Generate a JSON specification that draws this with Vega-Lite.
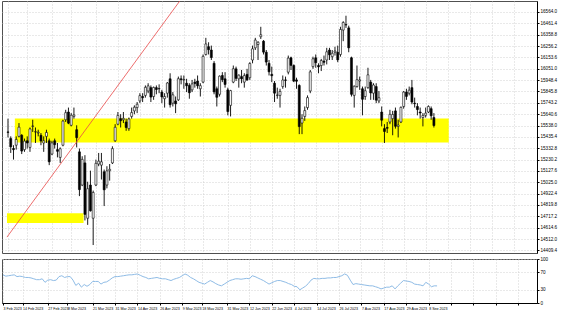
{
"$schema": "https://vega.github.io/schema/vega-lite/v6.json",
"padding": 0,
"background": "#ffffff",
"config": {
  "font": "Liberation Sans",
  "view": {"stroke": "#505050", "strokeWidth": 1},
  "concat": {"spacing": 1},
  "axis": {"labelFontSize": 4.6, "labelColor": "#000000", "tickColor": "#000000", "domainColor": "#000000", "gridColor": "#c8c8c8", "gridDash": [1, 2], "gridWidth": 0.8, "tickSize": 2, "labelPadding": 1, "labelOverlap": false}
},
"datasets": {
  "bars": [
{"i":2,"d":"2023-02-03","o":15480,"h":15600,"l":15430,"c":15476,"r":64},
{"i":3,"d":"2023-02-06","o":15420,"h":15440,"l":15290,"c":15345,"r":61},
{"i":4,"d":"2023-02-07","o":15330,"h":15360,"l":15230,"c":15320,"r":62},
{"i":5,"d":"2023-02-08","o":15360,"h":15440,"l":15320,"c":15412,"r":63},
{"i":6,"d":"2023-02-09","o":15440,"h":15560,"l":15430,"c":15523,"r":64},
{"i":7,"d":"2023-02-10","o":15450,"h":15460,"l":15280,"c":15307,"r":60},
{"i":8,"d":"2023-02-13","o":15320,"h":15420,"l":15300,"c":15397,"r":61},
{"i":9,"d":"2023-02-14","o":15400,"h":15440,"l":15330,"c":15380,"r":60},
{"i":10,"d":"2023-02-15","o":15340,"h":15520,"l":15300,"c":15507,"r":58},
{"i":11,"d":"2023-02-16","o":15530,"h":15590,"l":15480,"c":15534,"r":58},
{"i":12,"d":"2023-02-17","o":15480,"h":15520,"l":15380,"c":15482,"r":57},
{"i":13,"d":"2023-02-20","o":15470,"h":15500,"l":15440,"c":15477,"r":55},
{"i":14,"d":"2023-02-21","o":15450,"h":15470,"l":15360,"c":15398,"r":53},
{"i":15,"d":"2023-02-22","o":15380,"h":15440,"l":15300,"c":15400,"r":53},
{"i":16,"d":"2023-02-23","o":15440,"h":15500,"l":15380,"c":15475,"r":55},
{"i":17,"d":"2023-02-24","o":15400,"h":15420,"l":15180,"c":15210,"r":47},
{"i":18,"d":"2023-02-27","o":15280,"h":15400,"l":15270,"c":15381,"r":52},
{"i":19,"d":"2023-02-28","o":15400,"h":15420,"l":15330,"c":15365,"r":53},
{"i":20,"d":"2023-03-01","o":15320,"h":15380,"l":15250,"c":15305,"r":51},
{"i":21,"d":"2023-03-02","o":15250,"h":15340,"l":15200,"c":15328,"r":52},
{"i":22,"d":"2023-03-03","o":15360,"h":15590,"l":15350,"c":15578,"r":60},
{"i":23,"d":"2023-03-06","o":15590,"h":15680,"l":15570,"c":15654,"r":62},
{"i":24,"d":"2023-03-07","o":15660,"h":15700,"l":15550,"c":15559,"r":58},
{"i":25,"d":"2023-03-08","o":15540,"h":15650,"l":15530,"c":15631,"r":60},
{"i":26,"d":"2023-03-09","o":15620,"h":15700,"l":15600,"c":15633,"r":60},
{"i":27,"d":"2023-03-10","o":15500,"h":15540,"l":15340,"c":15428,"r":52},
{"i":28,"d":"2023-03-13","o":15300,"h":15330,"l":14900,"c":14959,"r":40},
{"i":29,"d":"2023-03-14","o":15000,"h":15260,"l":14990,"c":15232,"r":45},
{"i":30,"d":"2023-03-15","o":15200,"h":15270,"l":14680,"c":14735,"r":36},
{"i":31,"d":"2023-03-16","o":14700,"h":15030,"l":14640,"c":14967,"r":42},
{"i":32,"d":"2023-03-17","o":15000,"h":15130,"l":14760,"c":14768,"r":38},
{"i":33,"d":"2023-03-20","o":14700,"h":14950,"l":14458,"c":14933,"r":42},
{"i":34,"d":"2023-03-21","o":15000,"h":15230,"l":14990,"c":15196,"r":49},
{"i":35,"d":"2023-03-22","o":15190,"h":15290,"l":15170,"c":15216,"r":49},
{"i":36,"d":"2023-03-23","o":15180,"h":15290,"l":15050,"c":15210,"r":49},
{"i":37,"d":"2023-03-24","o":15120,"h":15140,"l":14810,"c":14957,"r":43},
{"i":38,"d":"2023-03-27","o":15000,"h":15170,"l":14970,"c":15128,"r":47},
{"i":39,"d":"2023-03-28","o":15130,"h":15190,"l":15040,"c":15142,"r":48},
{"i":40,"d":"2023-03-29","o":15200,"h":15350,"l":15190,"c":15329,"r":52},
{"i":41,"d":"2023-03-30","o":15400,"h":15550,"l":15390,"c":15522,"r":57},
{"i":42,"d":"2023-03-31","o":15550,"h":15660,"l":15540,"c":15629,"r":60},
{"i":43,"d":"2023-04-03","o":15600,"h":15640,"l":15520,"c":15581,"r":60},
{"i":44,"d":"2023-04-04","o":15590,"h":15660,"l":15560,"c":15603,"r":61},
{"i":45,"d":"2023-04-05","o":15570,"h":15600,"l":15490,"c":15520,"r":62},
{"i":46,"d":"2023-04-06","o":15510,"h":15610,"l":15490,"c":15597,"r":63},
{"i":47,"d":"2023-04-11","o":15620,"h":15700,"l":15600,"c":15655,"r":64},
{"i":48,"d":"2023-04-12","o":15670,"h":15720,"l":15640,"c":15703,"r":64},
{"i":49,"d":"2023-04-13","o":15700,"h":15750,"l":15650,"c":15730,"r":65},
{"i":50,"d":"2023-04-14","o":15760,"h":15830,"l":15740,"c":15808,"r":66},
{"i":51,"d":"2023-04-17","o":15800,"h":15830,"l":15750,"c":15789,"r":63},
{"i":52,"d":"2023-04-18","o":15810,"h":15900,"l":15790,"c":15883,"r":60},
{"i":53,"d":"2023-04-19","o":15850,"h":15920,"l":15830,"c":15896,"r":58},
{"i":54,"d":"2023-04-20","o":15880,"h":15900,"l":15750,"c":15795,"r":55},
{"i":55,"d":"2023-04-21","o":15800,"h":15890,"l":15770,"c":15882,"r":56},
{"i":56,"d":"2023-04-24","o":15880,"h":15900,"l":15820,"c":15863,"r":57},
{"i":57,"d":"2023-04-25","o":15870,"h":15910,"l":15830,"c":15872,"r":58},
{"i":58,"d":"2023-04-26","o":15840,"h":15860,"l":15740,"c":15796,"r":56},
{"i":59,"d":"2023-04-27","o":15780,"h":15830,"l":15700,"c":15800,"r":55},
{"i":60,"d":"2023-04-28","o":15830,"h":15930,"l":15790,"c":15922,"r":55},
{"i":61,"d":"2023-05-02","o":15960,"h":16010,"l":15700,"c":15726,"r":53},
{"i":62,"d":"2023-05-03","o":15740,"h":15840,"l":15710,"c":15815,"r":51},
{"i":63,"d":"2023-05-04","o":15760,"h":15800,"l":15650,"c":15734,"r":54},
{"i":64,"d":"2023-05-05","o":15770,"h":15980,"l":15760,"c":15961,"r":56},
{"i":65,"d":"2023-05-08","o":15960,"h":15990,"l":15910,"c":15952,"r":58},
{"i":66,"d":"2023-05-09","o":15950,"h":15990,"l":15870,"c":15955,"r":62},
{"i":67,"d":"2023-05-10","o":15920,"h":15960,"l":15840,"c":15897,"r":66},
{"i":68,"d":"2023-05-11","o":15900,"h":15920,"l":15780,"c":15834,"r":63},
{"i":69,"d":"2023-05-12","o":15860,"h":15950,"l":15840,"c":15914,"r":58},
{"i":70,"d":"2023-05-15","o":15930,"h":15960,"l":15880,"c":15917,"r":55},
{"i":71,"d":"2023-05-16","o":15940,"h":15990,"l":15870,"c":15897,"r":51},
{"i":72,"d":"2023-05-17","o":15870,"h":15920,"l":15800,"c":15898,"r":47},
{"i":73,"d":"2023-05-18","o":15930,"h":16180,"l":15920,"c":16163,"r":45},
{"i":74,"d":"2023-05-19","o":16180,"h":16330,"l":16170,"c":16275,"r":43},
{"i":75,"d":"2023-05-22","o":16250,"h":16290,"l":16180,"c":16223,"r":47},
{"i":76,"d":"2023-05-23","o":16220,"h":16260,"l":16130,"c":16152,"r":51},
{"i":77,"d":"2023-05-24","o":16100,"h":16120,"l":15820,"c":15842,"r":48},
{"i":78,"d":"2023-05-25","o":15870,"h":15890,"l":15710,"c":15793,"r":44},
{"i":79,"d":"2023-05-26","o":15820,"h":15990,"l":15800,"c":15984,"r":41},
{"i":80,"d":"2023-05-29","o":15990,"h":16020,"l":15930,"c":15952,"r":39},
{"i":81,"d":"2023-05-30","o":15960,"h":16020,"l":15880,"c":15909,"r":43},
{"i":82,"d":"2023-05-31","o":15860,"h":15880,"l":15630,"c":15664,"r":47},
{"i":83,"d":"2023-06-01","o":15720,"h":15860,"l":15620,"c":15853,"r":51},
{"i":84,"d":"2023-06-02","o":15930,"h":16080,"l":15920,"c":16051,"r":53},
{"i":85,"d":"2023-06-05","o":16050,"h":16070,"l":15940,"c":15964,"r":55},
{"i":86,"d":"2023-06-06","o":15960,"h":16000,"l":15880,"c":15993,"r":55},
{"i":87,"d":"2023-06-07","o":15980,"h":16040,"l":15920,"c":15960,"r":54},
{"i":88,"d":"2023-06-08","o":15930,"h":16010,"l":15880,"c":15989,"r":55},
{"i":89,"d":"2023-06-09","o":16000,"h":16050,"l":15940,"c":15950,"r":56},
{"i":90,"d":"2023-06-12","o":15970,"h":16110,"l":15950,"c":16098,"r":55},
{"i":91,"d":"2023-06-13","o":16130,"h":16260,"l":16100,"c":16231,"r":62},
{"i":92,"d":"2023-06-14","o":16240,"h":16330,"l":16220,"c":16310,"r":60},
{"i":93,"d":"2023-06-15","o":16270,"h":16300,"l":16130,"c":16290,"r":57},
{"i":94,"d":"2023-06-16","o":16340,"h":16430,"l":16320,"c":16358,"r":54},
{"i":95,"d":"2023-06-19","o":16300,"h":16310,"l":16180,"c":16201,"r":51},
{"i":96,"d":"2023-06-20","o":16200,"h":16220,"l":16080,"c":16111,"r":47},
{"i":97,"d":"2023-06-21","o":16100,"h":16130,"l":15990,"c":16023,"r":43},
{"i":98,"d":"2023-06-22","o":16000,"h":16070,"l":15930,"c":15988,"r":46},
{"i":99,"d":"2023-06-23","o":15920,"h":15940,"l":15750,"c":15830,"r":49},
{"i":100,"d":"2023-06-26","o":15810,"h":15880,"l":15780,"c":15813,"r":51},
{"i":101,"d":"2023-06-27","o":15810,"h":15870,"l":15700,"c":15846,"r":51},
{"i":102,"d":"2023-06-28","o":15890,"h":15990,"l":15870,"c":15949,"r":49},
{"i":103,"d":"2023-06-29","o":15950,"h":15980,"l":15880,"c":15946,"r":47},
{"i":104,"d":"2023-06-30","o":16020,"h":16170,"l":16000,"c":16147,"r":44},
{"i":105,"d":"2023-07-03","o":16150,"h":16160,"l":16040,"c":16081,"r":42},
{"i":106,"d":"2023-07-04","o":16080,"h":16090,"l":15930,"c":15939,"r":38},
{"i":107,"d":"2023-07-05","o":15950,"h":15970,"l":15870,"c":15938,"r":37},
{"i":108,"d":"2023-07-06","o":15900,"h":15910,"l":15460,"c":15528,"r":30},
{"i":109,"d":"2023-07-07","o":15560,"h":15640,"l":15460,"c":15603,"r":34},
{"i":110,"d":"2023-07-10","o":15620,"h":15710,"l":15580,"c":15673,"r":38},
{"i":111,"d":"2023-07-11","o":15700,"h":15810,"l":15680,"c":15790,"r":44},
{"i":112,"d":"2023-07-12","o":15850,"h":16040,"l":15830,"c":16023,"r":52},
{"i":113,"d":"2023-07-13","o":16070,"h":16160,"l":16050,"c":16141,"r":56},
{"i":114,"d":"2023-07-14","o":16150,"h":16180,"l":16060,"c":16105,"r":55},
{"i":115,"d":"2023-07-17","o":16080,"h":16100,"l":16010,"c":16068,"r":55},
{"i":116,"d":"2023-07-18","o":16080,"h":16140,"l":16030,"c":16125,"r":56},
{"i":117,"d":"2023-07-19","o":16120,"h":16170,"l":16080,"c":16109,"r":56},
{"i":118,"d":"2023-07-20","o":16130,"h":16240,"l":16090,"c":16204,"r":57},
{"i":119,"d":"2023-07-21","o":16220,"h":16240,"l":16130,"c":16177,"r":57},
{"i":120,"d":"2023-07-24","o":16160,"h":16220,"l":16130,"c":16191,"r":58},
{"i":121,"d":"2023-07-25","o":16200,"h":16250,"l":16170,"c":16211,"r":58},
{"i":122,"d":"2023-07-26","o":16200,"h":16260,"l":16110,"c":16131,"r":60},
{"i":123,"d":"2023-07-27","o":16180,"h":16430,"l":16160,"c":16406,"r":62},
{"i":124,"d":"2023-07-28","o":16400,"h":16480,"l":16300,"c":16469,"r":66},
{"i":125,"d":"2023-07-31","o":16450,"h":16530,"l":16420,"c":16446,"r":63},
{"i":126,"d":"2023-08-01","o":16420,"h":16440,"l":16200,"c":16240,"r":52},
{"i":127,"d":"2023-08-02","o":16150,"h":16160,"l":15800,"c":15820,"r":42},
{"i":128,"d":"2023-08-03","o":15810,"h":15900,"l":15700,"c":15893,"r":44},
{"i":129,"d":"2023-08-04","o":15890,"h":16080,"l":15880,"c":15952,"r":43},
{"i":130,"d":"2023-08-07","o":15940,"h":15980,"l":15860,"c":15950,"r":42},
{"i":131,"d":"2023-08-08","o":15870,"h":15890,"l":15630,"c":15775,"r":41},
{"i":132,"d":"2023-08-09","o":15800,"h":15890,"l":15770,"c":15852,"r":40},
{"i":133,"d":"2023-08-10","o":15880,"h":16060,"l":15870,"c":15996,"r":39},
{"i":134,"d":"2023-08-11","o":15930,"h":15950,"l":15770,"c":15832,"r":39},
{"i":135,"d":"2023-08-14","o":15830,"h":15920,"l":15770,"c":15904,"r":37},
{"i":136,"d":"2023-08-15","o":15890,"h":15920,"l":15740,"c":15767,"r":35},
{"i":137,"d":"2023-08-16","o":15760,"h":15850,"l":15740,"c":15789,"r":32},
{"i":138,"d":"2023-08-17","o":15660,"h":15710,"l":15530,"c":15586,"r":34},
{"i":139,"d":"2023-08-18","o":15510,"h":15550,"l":15380,"c":15484,"r":36},
{"i":140,"d":"2023-08-21","o":15520,"h":15570,"l":15470,"c":15513,"r":36},
{"i":141,"d":"2023-08-22","o":15570,"h":15680,"l":15550,"c":15639,"r":39},
{"i":142,"d":"2023-08-23","o":15600,"h":15670,"l":15450,"c":15638,"r":32},
{"i":143,"d":"2023-08-24","o":15670,"h":15700,"l":15510,"c":15531,"r":39},
{"i":144,"d":"2023-08-25","o":15530,"h":15590,"l":15430,"c":15542,"r":45},
{"i":145,"d":"2023-08-28","o":15570,"h":15710,"l":15560,"c":15702,"r":51},
{"i":146,"d":"2023-08-29","o":15710,"h":15850,"l":15690,"c":15840,"r":50},
{"i":147,"d":"2023-08-30","o":15840,"h":15870,"l":15770,"c":15801,"r":49},
{"i":148,"d":"2023-08-31","o":15830,"h":15890,"l":15810,"c":15857,"r":47},
{"i":149,"d":"2023-09-01","o":15880,"h":15950,"l":15730,"c":15750,"r":43},
{"i":150,"d":"2023-09-04","o":15740,"h":15790,"l":15700,"c":15735,"r":42},
{"i":151,"d":"2023-09-05","o":15710,"h":15740,"l":15630,"c":15682,"r":41},
{"i":152,"d":"2023-09-06","o":15660,"h":15700,"l":15600,"c":15651,"r":39},
{"i":153,"d":"2023-09-07","o":15610,"h":15650,"l":15530,"c":15629,"r":47},
{"i":154,"d":"2023-09-08","o":15630,"h":15700,"l":15610,"c":15650,"r":43},
{"i":155,"d":"2023-09-11","o":15660,"h":15720,"l":15650,"c":15710,"r":37},
{"i":156,"d":"2023-09-12","o":15690,"h":15710,"l":15590,"c":15626,"r":39},
{"i":157,"d":"2023-09-13","o":15610,"h":15650,"l":15520,"c":15538,"r":38.8679}
  ],
  "zones": [
    {"i": 4.5, "i2": 162.4, "p": 15385, "p2": 15601},
    {"i": 1.64, "i2": 29.5, "p": 14656, "p2": 14746}
  ],
  "trend": [
    {"i": 1.64, "p": 14530},
    {"i": 70, "p": 16849}
  ]
},
"vconcat": [
  {
    "width": 535,
    "height": 252,
    "layer": [
      {
        "data": {"name": "zones"},
        "mark": {"type": "rect", "color": "#ffff00"},
        "encoding": {
          "x": {"field": "i", "type": "quantitative", "scale": {"domain": [1.64, 192.7], "nice": false, "zero": false}, "axis": {"title": null, "orient": "bottom", "values": [2,9,18,25,34,42,50,58,66,73,82,90,98,106,114,122,130,138,146,154,162,170,178,186], "labels": false, "ticks": false, "domain": false, "grid": true}},
          "x2": {"field": "i2"},
          "y": {"field": "p", "type": "quantitative", "scale": {"domain": [14386, 16663], "nice": false, "zero": false}, "axis": {"title": null, "orient": "right", "values": [16564,16461.4,16358.8,16256.2,16153.6,16051,15948.4,15845.8,15743.2,15640.6,15538,15435.4,15332.8,15230.2,15127.6,15025,14922.4,14819.8,14717.2,14614.6,14512,14409.4], "format": ".1f", "grid": true}},
          "y2": {"field": "p2"}
        }
      },
      {
        "mark": {"type": "rule", "color": "#a0a0a0", "strokeWidth": 0.8},
        "encoding": {"y": {"datum": 15538, "type": "quantitative", "scale": {"domain": [14386, 16663], "nice": false, "zero": false}, "axis": {"title": null, "orient": "right", "values": [16564,16461.4,16358.8,16256.2,16153.6,16051,15948.4,15845.8,15743.2,15640.6,15538,15435.4,15332.8,15230.2,15127.6,15025,14922.4,14819.8,14717.2,14614.6,14512,14409.4], "format": ".1f", "grid": true}}}
      },
      {
        "data": {"name": "bars"},
        "mark": {"type": "rule", "strokeWidth": 0.9, "color": "#000000"},
        "encoding": {
          "x": {"field": "i", "type": "quantitative", "scale": {"domain": [1.64, 192.7], "nice": false, "zero": false}, "axis": {"title": null, "orient": "bottom", "values": [2,9,18,25,34,42,50,58,66,73,82,90,98,106,114,122,130,138,146,154,162,170,178,186], "labels": false, "ticks": false, "domain": false, "grid": true}},
          "y": {"field": "l", "type": "quantitative", "scale": {"domain": [14386, 16663], "nice": false, "zero": false}, "axis": {"title": null, "orient": "right", "values": [16564,16461.4,16358.8,16256.2,16153.6,16051,15948.4,15845.8,15743.2,15640.6,15538,15435.4,15332.8,15230.2,15127.6,15025,14922.4,14819.8,14717.2,14614.6,14512,14409.4], "format": ".1f", "grid": true}},
          "y2": {"field": "h"}
        }
      },
      {
        "data": {"name": "bars"},
        "mark": {"type": "bar", "size": 2, "stroke": "#000000", "strokeWidth": 0.6},
        "encoding": {
          "x": {"field": "i", "type": "quantitative", "scale": {"domain": [1.64, 192.7], "nice": false, "zero": false}, "axis": {"title": null, "orient": "bottom", "values": [2,9,18,25,34,42,50,58,66,73,82,90,98,106,114,122,130,138,146,154,162,170,178,186], "labels": false, "ticks": false, "domain": false, "grid": true}},
          "y": {"field": "o", "type": "quantitative", "scale": {"domain": [14386, 16663], "nice": false, "zero": false}, "axis": {"title": null, "orient": "right", "values": [16564,16461.4,16358.8,16256.2,16153.6,16051,15948.4,15845.8,15743.2,15640.6,15538,15435.4,15332.8,15230.2,15127.6,15025,14922.4,14819.8,14717.2,14614.6,14512,14409.4], "format": ".1f", "grid": true}},
          "y2": {"field": "c"},
          "color": {"condition": {"test": "datum.c >= datum.o", "value": "#ffffff"}, "value": "#000000"}
        }
      },
      {
        "data": {"name": "trend"},
        "mark": {"type": "line", "color": "#e84848", "strokeWidth": 0.8, "clip": true},
        "encoding": {
          "x": {"field": "i", "type": "quantitative", "scale": {"domain": [1.64, 192.7], "nice": false, "zero": false}, "axis": {"title": null, "orient": "bottom", "values": [2,9,18,25,34,42,50,58,66,73,82,90,98,106,114,122,130,138,146,154,162,170,178,186], "labels": false, "ticks": false, "domain": false, "grid": true}},
          "y": {"field": "p", "type": "quantitative", "scale": {"domain": [14386, 16663], "nice": false, "zero": false}, "axis": {"title": null, "orient": "right", "values": [16564,16461.4,16358.8,16256.2,16153.6,16051,15948.4,15845.8,15743.2,15640.6,15538,15435.4,15332.8,15230.2,15127.6,15025,14922.4,14819.8,14717.2,14614.6,14512,14409.4], "format": ".1f", "grid": true}}
        }
      },
      {
        "mark": {"type": "rect", "color": "#000000"},
        "encoding": {
          "x": {"datum": 192.75, "type": "quantitative", "scale": {"domain": [1.64, 192.7], "nice": false, "zero": false}, "axis": {"title": null, "orient": "bottom", "values": [2,9,18,25,34,42,50,58,66,73,82,90,98,106,114,122,130,138,146,154,162,170,178,186], "labels": false, "ticks": false, "domain": false, "grid": true}},
          "x2": {"datum": 202.4},
          "y": {"datum": 15510, "type": "quantitative", "scale": {"domain": [14386, 16663], "nice": false, "zero": false}, "axis": {"title": null, "orient": "right", "values": [16564,16461.4,16358.8,16256.2,16153.6,16051,15948.4,15845.8,15743.2,15640.6,15538,15435.4,15332.8,15230.2,15127.6,15025,14922.4,14819.8,14717.2,14614.6,14512,14409.4], "format": ".1f", "grid": true}},
          "y2": {"datum": 15566}
        }
      },
      {
        "mark": {"type": "text", "text": "15538.0", "fontSize": 4.6, "align": "left", "baseline": "middle", "font": "Liberation Sans", "color": "#ffffff"},
        "encoding": {
          "x": {"datum": 193.8, "type": "quantitative", "scale": {"domain": [1.64, 192.7], "nice": false, "zero": false}, "axis": {"title": null, "orient": "bottom", "values": [2,9,18,25,34,42,50,58,66,73,82,90,98,106,114,122,130,138,146,154,162,170,178,186], "labels": false, "ticks": false, "domain": false, "grid": true}},
          "y": {"datum": 15538, "type": "quantitative", "scale": {"domain": [14386, 16663], "nice": false, "zero": false}, "axis": {"title": null, "orient": "right", "values": [16564,16461.4,16358.8,16256.2,16153.6,16051,15948.4,15845.8,15743.2,15640.6,15538,15435.4,15332.8,15230.2,15127.6,15025,14922.4,14819.8,14717.2,14614.6,14512,14409.4], "format": ".1f", "grid": true}}
        }
      },
      {
        "mark": {"type": "text", "text": "▼ GER30,Daily  15610.0 15650.0 15520.0 15538.0", "fontSize": 4.6, "align": "left", "baseline": "middle", "font": "Liberation Sans", "color": "#000000"},
        "encoding": {
          "x": {"datum": 2.4, "type": "quantitative", "scale": {"domain": [1.64, 192.7], "nice": false, "zero": false}, "axis": {"title": null, "orient": "bottom", "values": [2,9,18,25,34,42,50,58,66,73,82,90,98,106,114,122,130,138,146,154,162,170,178,186], "labels": false, "ticks": false, "domain": false, "grid": true}},
          "y": {"datum": 16622, "type": "quantitative", "scale": {"domain": [14386, 16663], "nice": false, "zero": false}, "axis": {"title": null, "orient": "right", "values": [16564,16461.4,16358.8,16256.2,16153.6,16051,15948.4,15845.8,15743.2,15640.6,15538,15435.4,15332.8,15230.2,15127.6,15025,14922.4,14819.8,14717.2,14614.6,14512,14409.4], "format": ".1f", "grid": true}}
        }
      },
      {
        "mark": {"type": "text", "text": "Smart Orders", "fontSize": 4.6, "align": "right", "baseline": "middle", "font": "Liberation Sans", "color": "#000000"},
        "encoding": {
          "x": {"datum": 190.9, "type": "quantitative", "scale": {"domain": [1.64, 192.7], "nice": false, "zero": false}, "axis": {"title": null, "orient": "bottom", "values": [2,9,18,25,34,42,50,58,66,73,82,90,98,106,114,122,130,138,146,154,162,170,178,186], "labels": false, "ticks": false, "domain": false, "grid": true}},
          "y": {"datum": 16625, "type": "quantitative", "scale": {"domain": [14386, 16663], "nice": false, "zero": false}, "axis": {"title": null, "orient": "right", "values": [16564,16461.4,16358.8,16256.2,16153.6,16051,15948.4,15845.8,15743.2,15640.6,15538,15435.4,15332.8,15230.2,15127.6,15025,14922.4,14819.8,14717.2,14614.6,14512,14409.4], "format": ".1f", "grid": true}}
        }
      }
    ]
  },
  {
    "width": 535,
    "height": 44,
    "layer": [
      {
        "data": {"name": "bars"},
        "mark": {"type": "line", "color": "#8fbce6", "strokeWidth": 1},
        "encoding": {
          "x": {"field": "i", "type": "quantitative", "scale": {"domain": [1.64, 192.7], "nice": false, "zero": false}, "axis": {"title": null, "orient": "bottom", "values": [2,9,18,25,34,42,50,58,66,73,82,90,98,106,114,122,130,138,146,154,162,170,178,186], "labelExpr": "{'2':'3 Feb 2023','9':'14 Feb 2023','18':'27 Feb 2023','25':'8 Mar 2023','34':'21 Mar 2023','42':'31 Mar 2023','50':'14 Apr 2023','58':'26 Apr 2023','66':'9 May 2023','73':'18 May 2023','82':'31 May 2023','90':'12 Jun 2023','98':'22 Jun 2023','106':'4 Jul 2023','114':'14 Jul 2023','122':'26 Jul 2023','130':'7 Aug 2023','138':'17 Aug 2023','146':'29 Aug 2023','154':'8 Sep 2023'}[datum.value] || ''", "labelAlign": "left", "labelFontSize": 3.6, "grid": true, "tickSize": 2}},
          "y": {"field": "r", "type": "quantitative", "scale": {"domain": [0, 100], "nice": false}, "axis": {"title": null, "orient": "right", "values": [0, 30, 70, 100], "grid": true}}
        }
      },
      {
        "mark": {"type": "text", "text": "RSI(14) 38.8679", "fontSize": 4.6, "align": "left", "baseline": "middle", "font": "Liberation Sans", "color": "#000000"},
        "encoding": {
          "x": {"datum": 2.4, "type": "quantitative", "scale": {"domain": [1.64, 192.7], "nice": false, "zero": false}, "axis": {"title": null, "orient": "bottom", "values": [2,9,18,25,34,42,50,58,66,73,82,90,98,106,114,122,130,138,146,154,162,170,178,186], "labelExpr": "{'2':'3 Feb 2023','9':'14 Feb 2023','18':'27 Feb 2023','25':'8 Mar 2023','34':'21 Mar 2023','42':'31 Mar 2023','50':'14 Apr 2023','58':'26 Apr 2023','66':'9 May 2023','73':'18 May 2023','82':'31 May 2023','90':'12 Jun 2023','98':'22 Jun 2023','106':'4 Jul 2023','114':'14 Jul 2023','122':'26 Jul 2023','130':'7 Aug 2023','138':'17 Aug 2023','146':'29 Aug 2023','154':'8 Sep 2023'}[datum.value] || ''", "labelAlign": "left", "labelFontSize": 3.6, "grid": true, "tickSize": 2}},
          "y": {"datum": 91, "type": "quantitative", "scale": {"domain": [0, 100], "nice": false}, "axis": {"title": null, "orient": "right", "values": [0, 30, 70, 100], "grid": true}}
        }
      }
    ]
  }
]
}
